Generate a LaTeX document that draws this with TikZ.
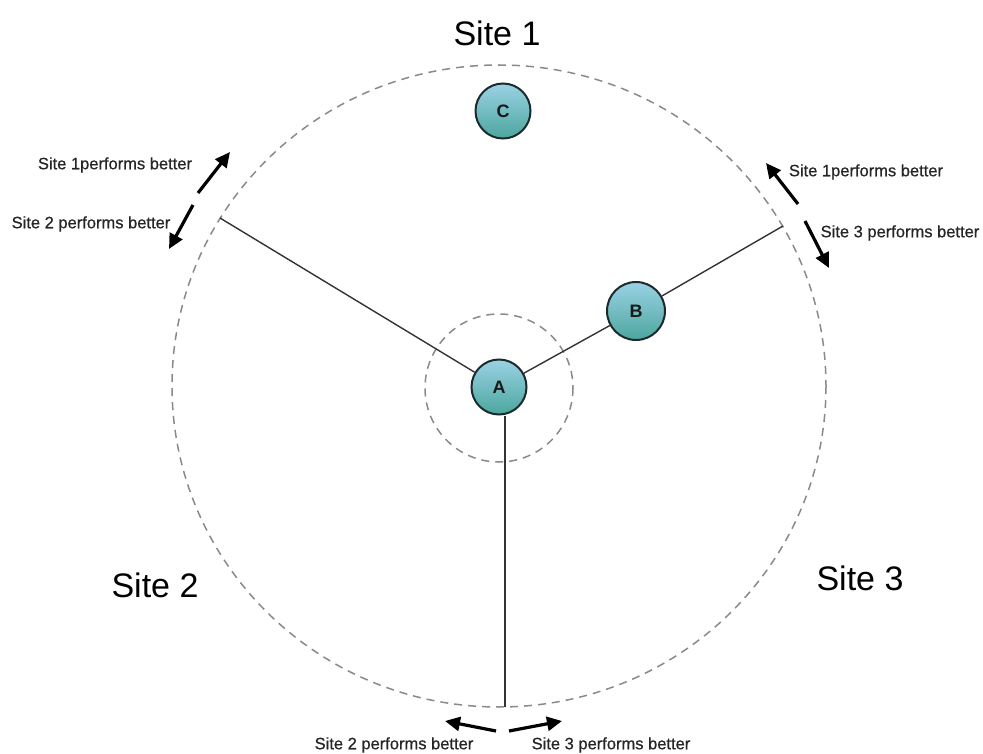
\documentclass[tikz,border=0pt]{standalone}
\usepackage{fontspec}
\setmainfont{Liberation Sans}
\newfontfamily\hintfont[FakeBold=0.6]{Liberation Sans}
\usetikzlibrary{arrows.meta}
\definecolor{ringgray}{HTML}{8A8A8A}
\definecolor{edgegray}{HTML}{333333}
\definecolor{nodetop}{HTML}{9AD2E4}
\definecolor{nodebot}{HTML}{4CA69E}
\definecolor{nodeline}{HTML}{1C2A2E}
\tikzset{
  ring/.style={draw=ringgray, line width=1.5pt, dash pattern=on 8pt off 6pt},
  edge/.style={draw=edgegray, line width=1.4pt},
  site/.style={font=\fontsize{34}{36}\selectfont, text=black},
  hint/.style={font=\hintfont\fontsize{16.5}{18}\selectfont, text=black!85},
  pointer/.style={line width=3.2pt, -{Triangle[length=15pt, width=14pt]}},
  peer/.style={circle, minimum size=55pt, inner sep=0pt, draw=nodeline,
    line width=2pt, top color=nodetop, bottom color=nodebot,
    font=\fontsize{18}{20}\bfseries\selectfont, text=black!90}
}
\begin{document}
\begin{tikzpicture}[x=1pt, y=-1pt]
\useasboundingbox (0,0) rectangle (983,754);

% site boundary and inner region
\coordinate (O) at (499,386);
\draw[ring] (O) ellipse [x radius=327, y radius=321];
\draw[ring] (499,388) circle [radius=74];

% boundary points where the dividing lines meet the ring
\coordinate (e1) at (220,218);
\coordinate (e2) at (783,226);
\coordinate (e3) at (505,707);

% peers
\node[peer] (A) at (499,387) {A};
\node[peer, minimum size=58pt] (B) at (636,311) {B};
\node[peer] (C) at (503,111) {C};

% dividing lines
\draw[edge] (A) -- (e1);
\draw[edge] (A) -- (B);
\draw[edge] (B) -- (e2);
\draw[edge] (A.south -| e3) -- (e3);

% site titles
\node[site] (s1) at (497,33) {Site 1};
\node[site] (s2) at (155,585) {Site 2};
\node[site] (s3) at (860,578) {Site 3};

% upper-left border hints
\coordinate (ul1t) at (198,193);
\coordinate (ul1h) at (230,152);
\coordinate (ul2t) at (193,205);
\coordinate (ul2h) at (169,249);
\draw[pointer] (ul1t) -- (ul1h);
\draw[pointer] (ul2t) -- (ul2h);
\node[hint] (h1) at (115,165) {Site 1performs better};
\node[hint] (h2) at (91,224) {Site 2 performs better};

% upper-right border hints
\coordinate (ur1t) at (798,204);
\coordinate (ur1h) at (766,163);
\coordinate (ur2t) at (805,221);
\coordinate (ur2h) at (829,268);
\draw[pointer] (ur1t) -- (ur1h);
\draw[pointer] (ur2t) -- (ur2h);
\node[hint] (h3) at (866,172) {Site 1performs better};
\node[hint] (h4) at (900,233) {Site 3 performs better};

% bottom border hints
\coordinate (b1t) at (496,731);
\coordinate (b1h) at (445,721);
\coordinate (b2t) at (509,731);
\coordinate (b2h) at (562,721);
\draw[pointer] (b1t) -- (b1h);
\draw[pointer] (b2t) -- (b2h);
\node[hint] (h5) at (394,745) {Site 2 performs better};
\node[hint] (h6) at (611,745) {Site 3 performs better};
\end{tikzpicture}
\end{document}
